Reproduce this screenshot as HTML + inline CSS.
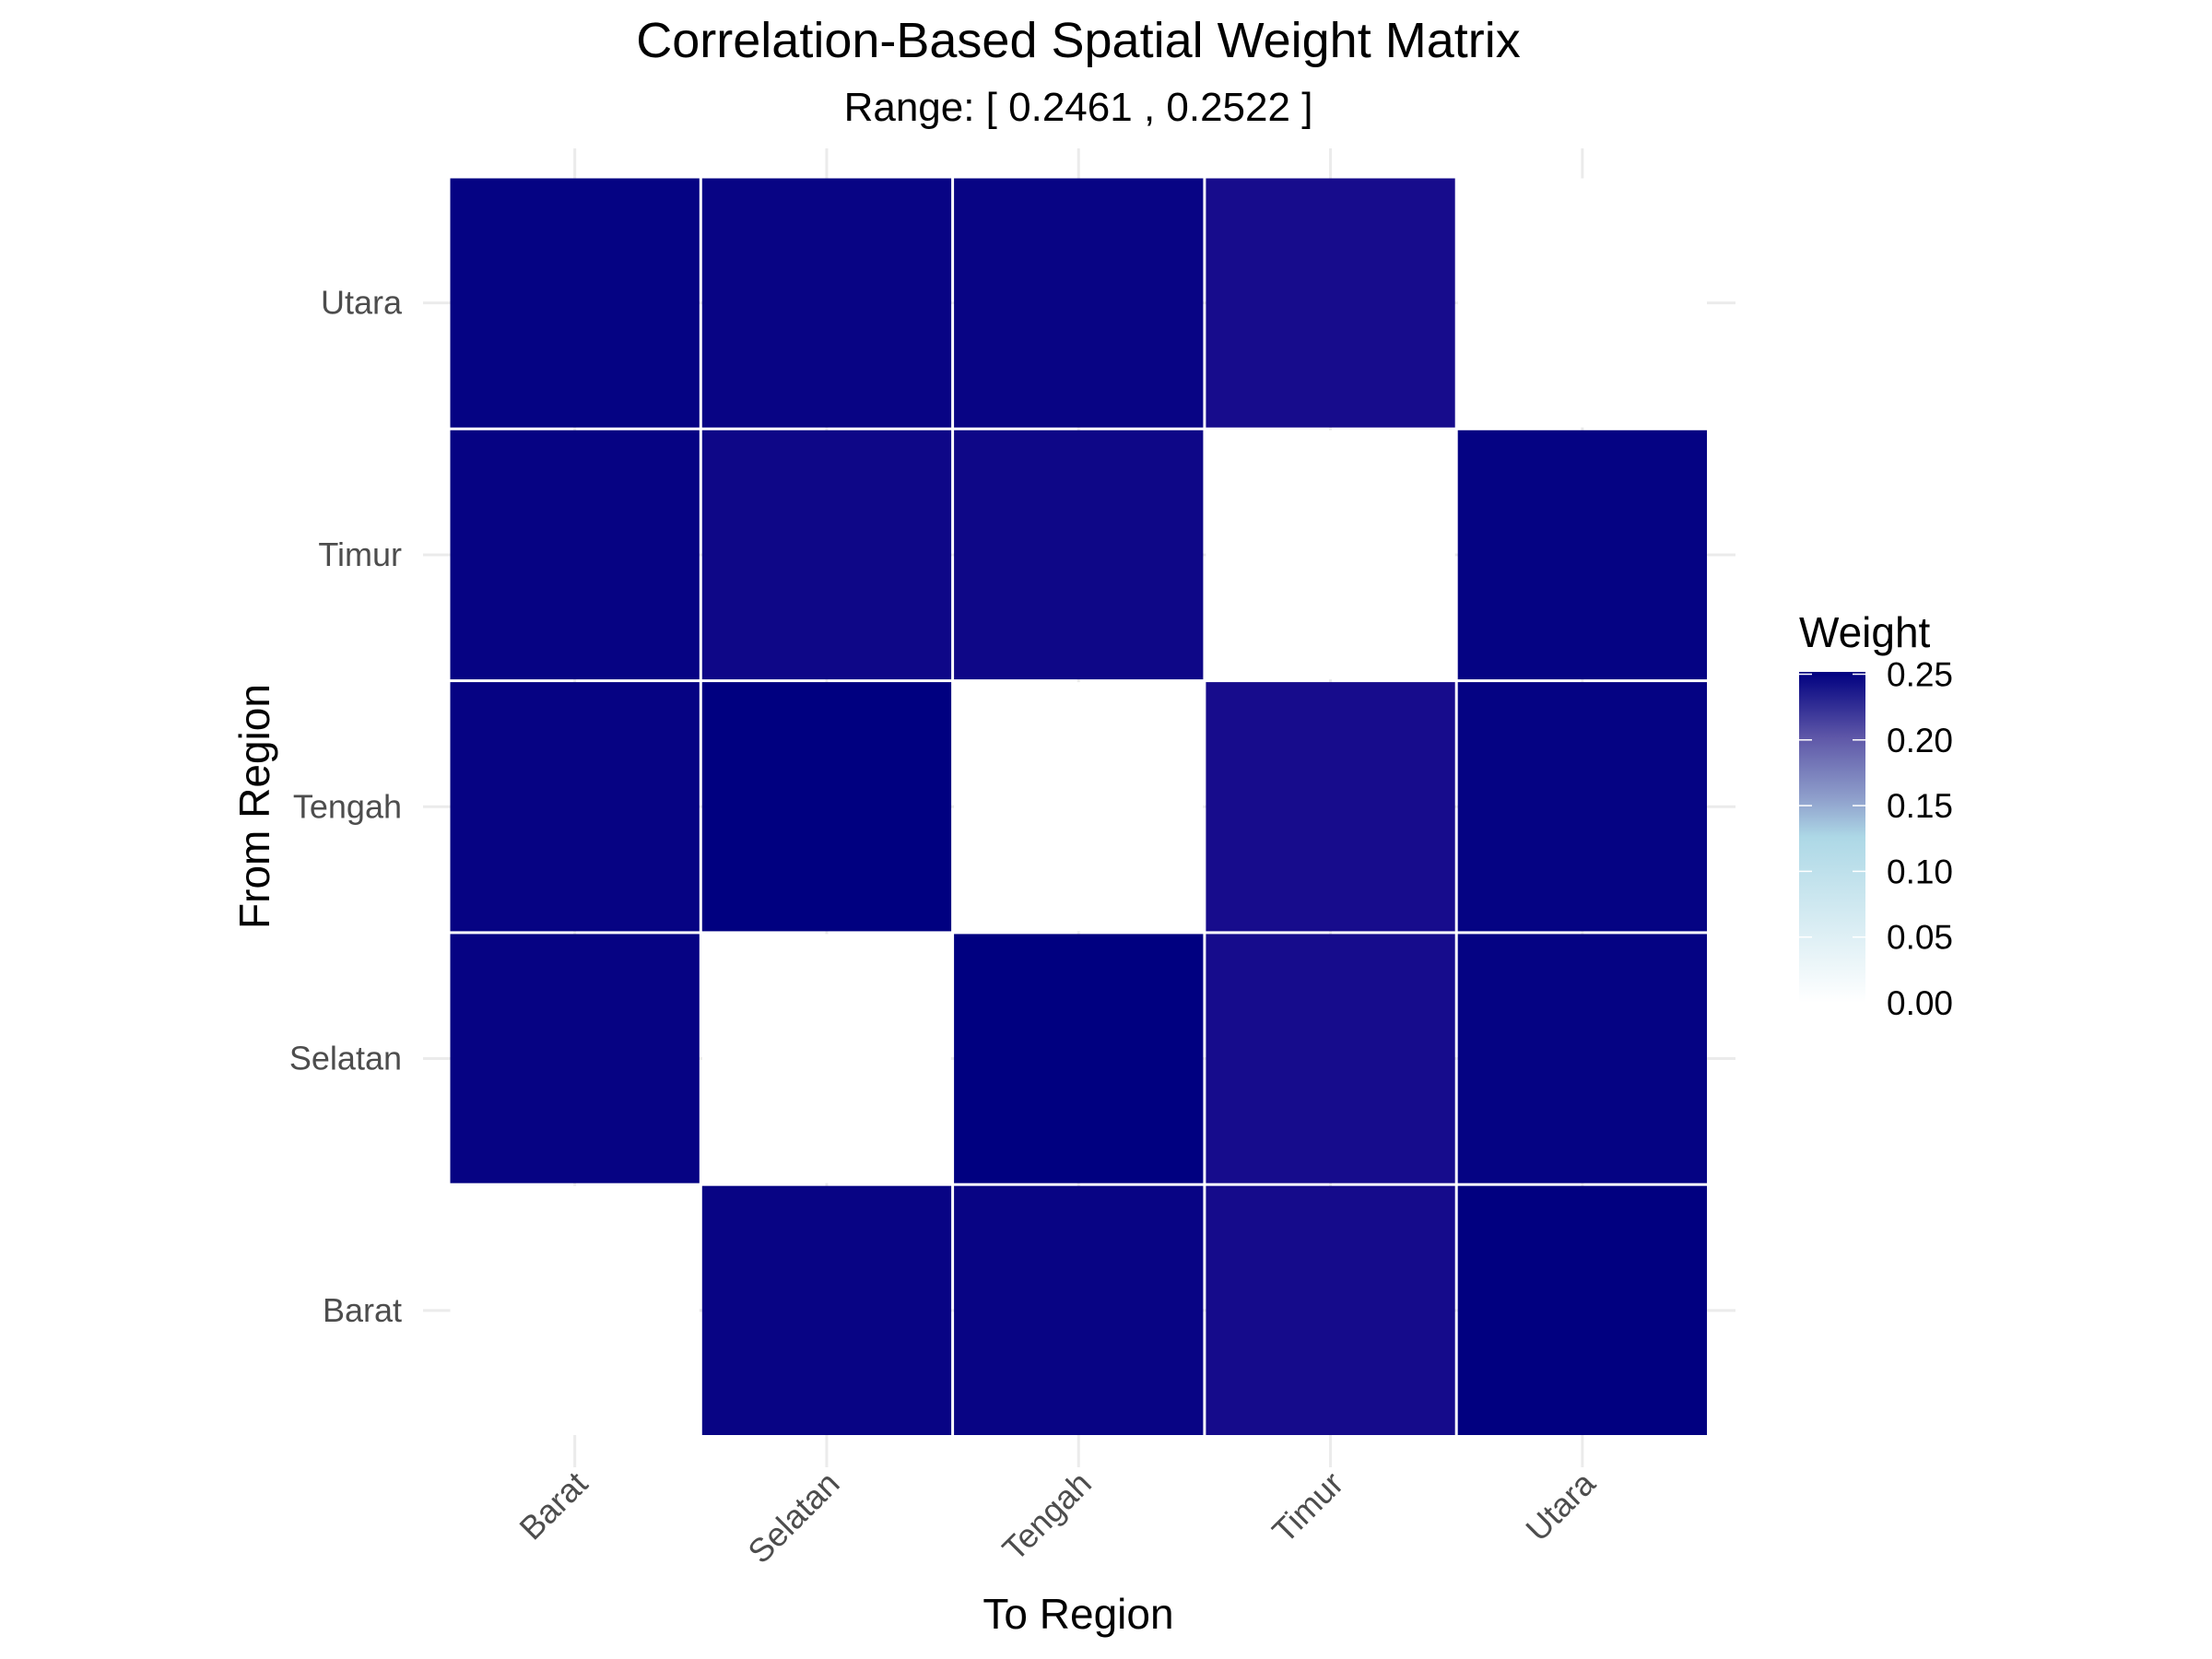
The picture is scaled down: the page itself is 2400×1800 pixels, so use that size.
<!DOCTYPE html>
<html><head><meta charset="utf-8"><style>
html,body{margin:0;padding:0;background:#fff;}
svg{display:block;font-family:"Liberation Sans",Arial,sans-serif;}
</style></head><body>
<svg id="chart" width="2400" height="1800" viewBox="0 0 2400 1800">
<defs>
<linearGradient id="lg" x1="0" y1="1" x2="0" y2="0">
<stop offset="0" stop-color="#ffffff"/>
<stop offset="0.5" stop-color="#ADD8E6"/>
<stop offset="0.62" stop-color="#8E9ECB"/>
<stop offset="0.8" stop-color="#5F58A8"/>
<stop offset="1" stop-color="#000080"/>
</linearGradient>
</defs>
<text x="1170" y="62" font-size="54" text-anchor="middle" fill="#000">Correlation-Based Spatial Weight Matrix</text>
<text x="1170" y="131" font-size="44" text-anchor="middle" fill="#000">Range: [ 0.2461 , 0.2522 ]</text>
<g id="grid"></g>
<g id="tiles"></g>
<g id="yticks"></g>
<g id="xticks"></g>
<text x="1170" y="1767" font-size="46" text-anchor="middle" fill="#000">To Region</text>
<text transform="translate(292,875) rotate(-90)" font-size="46" text-anchor="middle" fill="#000">From Region</text>
<g>
<text x="1952" y="702" font-size="46" fill="#000">Weight</text>
<rect x="1952" y="729" width="72" height="359" fill="url(#lg)"/>
<g id="legticks"></g>
</g>
</svg>
<script>
const regions = ["Barat","Selatan","Tengah","Timur","Utara"];
// weights[from][to], diagonal = 0
const rowUtara   = [0.2508, 0.2500, 0.2500, 0.2461, 0];
const rowTimur   = [0.2505, 0.2485, 0.2485, 0, 0.2508];
const rowTengah  = [0.2505, 0.2522, 0, 0.2461, 0.2508];
const rowSelatan = [0.2505, 0, 0.2522, 0.2463, 0.2508];
const rowBarat   = [0, 0.2500, 0.2500, 0.2465, 0.2520];
const legendTicks = [0, 0.05, 0.10, 0.15, 0.20, 0.25];
const legendLabels = ["0.00","0.05","0.10","0.15","0.20","0.25"];

const rows = {Barat:rowBarat, Selatan:rowSelatan, Tengah:rowTengah, Timur:rowTimur, Utara:rowUtara};
const NS="http://www.w3.org/2000/svg";
const x0=487, y0=192, cell=273.3, n=regions.length;
const xPos = i => x0 + i*cell;
const yPos = j => y0 + (n-1-j)*cell;
function hex(c){return [1,3,5].map(k=>parseInt(c.substr(k,2),16));}
const stops=[[0,"#ffffff"],[0.126,"#ADD8E6"],[0.20,"#5F58A8"],[0.2461,"#170C8C"],[0.2522,"#000080"]];
function color(v){
  for(let k=1;k<stops.length;k++){
    if(v<=stops[k][0]||k===stops.length-1){
      const [a,ca]=stops[k-1],[b,cb]=stops[k];
      let t=Math.max(0,Math.min(1,(v-a)/(b-a)));
      const A=hex(ca),B=hex(cb);
      return "rgb("+A.map((x,i)=>Math.round(x+(B[i]-x)*t)).join(",")+")";
    }
  }
}
function mk(tag,attrs,parent){const e=document.createElementNS(NS,tag);for(const k in attrs)e.setAttribute(k,attrs[k]);parent.appendChild(e);return e;}
const grid=document.getElementById("grid");
regions.forEach((r,i)=>{
  const gx=mk("line",{x1:xPos(i)+cell/2,x2:xPos(i)+cell/2,y1:161,y2:1592,stroke:"#EBEBEB","stroke-width":3},grid);
  
  
  const gy=mk("line",{y1:yPos(i)+cell/2,y2:yPos(i)+cell/2,x1:459,x2:1883,stroke:"#EBEBEB","stroke-width":3},grid);
  
  
});
const tiles=document.getElementById("tiles");
regions.forEach((from,j)=>{
  rows[from].forEach((v,i)=>{
    const t=mk("rect",{x:xPos(i)+1.5,y:yPos(j)+1.5,width:cell-3,height:cell-3,fill:color(v)},tiles);
    
    
  });
});
const yt=document.getElementById("yticks");
regions.forEach((r,j)=>{
  const t=mk("text",{x:436,y:yPos(j)+cell/2+12,"font-size":36,"text-anchor":"end",fill:"#4D4D4D"},yt);
  t.textContent=r;
  
  
});
const xt=document.getElementById("xticks");
regions.forEach((r,i)=>{
  const cx=xPos(i)+cell/2;
  const t=mk("text",{transform:"translate("+(cx+16)+",1612) rotate(-45)","font-size":36,"text-anchor":"end",fill:"#4D4D4D"},xt);
  t.textContent=r;
  
  
});
const lt=document.getElementById("legticks");
const ly = v => 1088 - v/0.05*71.3;
legendTicks.forEach((v,k)=>{
  const y=ly(v);
  const a=mk("line",{x1:1952,x2:1966,y1:y,y2:y,stroke:"#fff","stroke-width":1.5},lt);
  
  
  const b=mk("line",{x1:2010,x2:2024,y1:y,y2:y,stroke:"#fff","stroke-width":1.5},lt);
  
  
  const t=mk("text",{x:2047,y:y+13,"font-size":37,fill:"#000"},lt);
  t.textContent=legendLabels[k];
  
  
});
</script>
</body></html>
